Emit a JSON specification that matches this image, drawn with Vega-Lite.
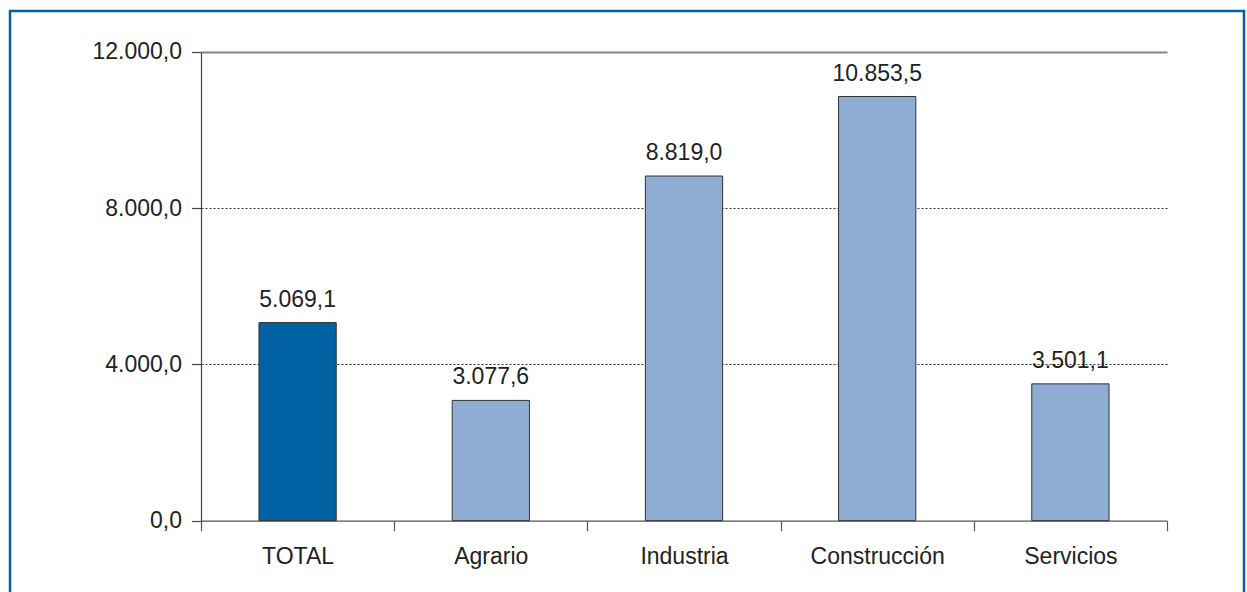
{
  "$schema": "https://vega.github.io/schema/vega-lite/v6.json",
  "autosize": {"type": "none"},
  "padding": {"left": 10, "top": 11, "right": 3, "bottom": 0},
  "width": 1234,
  "height": 600,
  "background": "white",
  "config": {
    "locale": {"number": {"decimal": ",", "thousands": ".", "grouping": [3], "currency": ["", " €"]}},
    "view": {"stroke": "#0063A6", "strokeWidth": 2.5},
    "font": "Liberation Sans"
  },
  "data": {
    "values": [
      {"sector": "TOTAL", "valor": 5069.1, "tipo": "total"},
      {"sector": "Agrario", "valor": 3077.6, "tipo": "sector"},
      {"sector": "Industria", "valor": 8819.0, "tipo": "sector"},
      {"sector": "Construcción", "valor": 10853.5, "tipo": "sector"},
      {"sector": "Servicios", "valor": 3501.1, "tipo": "sector"}
    ]
  },
  "encoding": {
    "x": {
      "field": "sector", "type": "nominal", "sort": null,
      "scale": {"range": [191, 1157], "paddingInner": 0, "paddingOuter": 0},
      "axis": {
        "title": null, "orient": "bottom", "offset": -90.3,
        "tickBand": "extent", "tickSize": 10, "tickColor": "#555", "tickWidth": 1.2,
        "domainColor": "#555", "domainWidth": 1.2,
        "labelPadding": 15, "labelFontSize": 23, "labelColor": "#222", "labelAngle": 0,
        "grid": false
      }
    },
    "y": {
      "field": "valor", "type": "quantitative",
      "scale": {"domain": [0, 12000], "range": [509.7, 40.7], "nice": false, "zero": true},
      "axis": {
        "title": null, "orient": "left", "offset": -191,
        "values": [0, 4000, 8000, 12000], "format": ",.1f",
        "tickSize": 9.5, "tickColor": "#444", "tickWidth": 1.2,
        "domainColor": "#444", "domainWidth": 1.2,
        "labelPadding": 10, "labelFontSize": 23, "labelColor": "#222",
        "grid": true,
        "gridColor": {"condition": {"test": "datum.value === 12000", "value": "#888"}, "value": "#333"},
        "gridWidth": {"condition": {"test": "datum.value === 12000", "value": 2}, "value": 1},
        "gridDash": {"condition": {"test": "datum.value === 12000", "value": []}, "value": [2, 2]},
        "gridOpacity": {"condition": {"test": "datum.value === 0", "value": 0}, "value": 1}
      }
    }
  },
  "layer": [
    {
      "mark": {"type": "bar", "width": {"band": 0.4}, "stroke": "#333", "strokeWidth": 1},
      "encoding": {
        "color": {
          "field": "tipo", "type": "nominal",
          "scale": {"domain": ["total", "sector"], "range": ["#0061A3", "#8FACD3"]},
          "legend": null
        }
      }
    },
    {
      "mark": {"type": "text", "baseline": "alphabetic", "dy": -16, "fontSize": 23, "color": "#222"},
      "encoding": {
        "text": {"field": "valor", "type": "quantitative", "format": ",.1f"}
      }
    }
  ]
}
